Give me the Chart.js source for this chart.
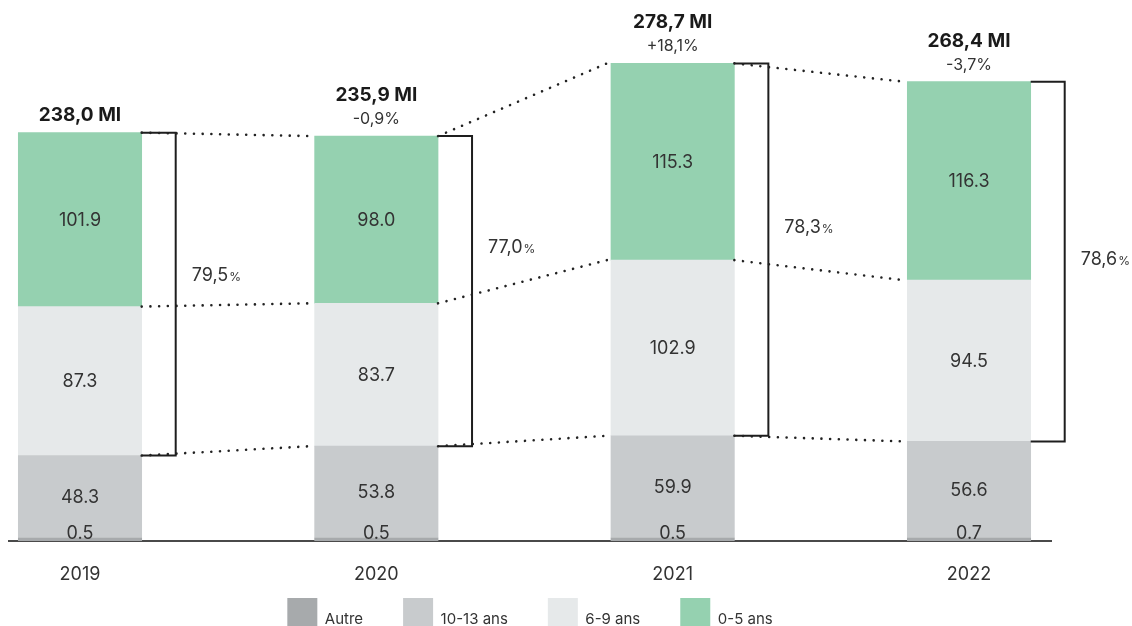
<!DOCTYPE html>
<html><head><meta charset="utf-8">
<script src="https://cdn.jsdelivr.net/npm/chart.js@4"></script>
<style>html,body{margin:0;padding:0;overflow:hidden;background:#fff}#wrap{width:1132px;height:650px;position:relative}</style>
</head><body><div id="wrap"><canvas id="c"></canvas></div>
<script>
const years = ['2019', '2020', '2021', '2022'];
const autre = [0.5, 0.5, 0.5, 0.7];
const ans10_13 = [48.3, 53.8, 59.9, 56.6];
const ans6_9 = [87.3, 83.7, 102.9, 94.5];
const ans0_5 = [101.9, 98.0, 115.3, 116.3];
const totals = [238.0, 235.9, 278.7, 268.4];
const changes = [null, -0.9, 18.1, -3.7];
const shares = [79.5, 77.0, 78.3, 78.6];
const seriesNames = ['Autre', '10-13 ans', '6-9 ans', '0-5 ans'];
const seriesColors = ['#a7aaac', '#c8cbcd', '#e6e9ea', '#95d1b0'];

const FONT = 'Inter, "Liberation Sans", Arial, sans-serif';
const fmtComma = v => v.toFixed(1).replace('.', ',');

const annotPlugin = {
  id: 'annot',
  afterDatasetsDraw(chart, args, opts) {
    const ctx = chart.ctx;
    const metas = [0, 1, 2, 3].map(d => chart.getDatasetMeta(d));
    const series = [autre, ans10_13, ans6_9, ans0_5];
    ctx.save();
    ctx.fillStyle = '#333';
    ctx.textAlign = 'center';
    ctx.font = '18px ' + FONT;
    years.forEach((y, i) => {
      for (let d = 0; d < 4; d++) {
        const el = metas[d].data[i];
        const txt = series[d][i].toFixed(1);
        if (d === 0) {
          ctx.textBaseline = 'alphabetic';
          ctx.fillText(txt, el.x, el.base - 2);
        } else {
          ctx.textBaseline = 'middle';
          ctx.fillText(txt, el.x, (el.y + el.base) / 2 + 1);
        }
      }
    });
    years.forEach((y, i) => {
      const top = metas[3].data[i];
      ctx.textAlign = 'center';
      ctx.textBaseline = 'alphabetic';
      ctx.font = 'bold 19px ' + FONT;
      ctx.fillStyle = '#1a1a1a';
      if (changes[i] === null) {
        ctx.fillText(fmtComma(totals[i]) + ' MI', top.x, top.y - 12);
      } else {
        ctx.fillText(fmtComma(totals[i]) + ' MI', top.x, top.y - 35);
        ctx.font = '16px ' + FONT;
        ctx.fillStyle = '#333';
        ctx.fillText((changes[i] > 0 ? '+' : '') + fmtComma(changes[i]) + '%', top.x, top.y - 12);
      }
    });
    years.forEach((y, i) => {
      const top = metas[3].data[i];
      const bot = metas[1].data[i];
      const x0 = top.x + top.width / 2;
      const x1 = x0 + opts.bracketGap;
      ctx.strokeStyle = '#1e1e1e';
      ctx.lineWidth = 2;
      ctx.setLineDash([]);
      ctx.beginPath();
      ctx.moveTo(x0, top.y);
      ctx.lineTo(x1, top.y);
      ctx.lineTo(x1, bot.y);
      ctx.lineTo(x0, bot.y);
      ctx.stroke();
      const ly = (top.y + bot.y) / 2 + opts.shareOffsets[i];
      ctx.textAlign = 'left';
      ctx.textBaseline = 'alphabetic';
      ctx.fillStyle = '#333';
      ctx.font = '18px ' + FONT;
      const main = fmtComma(shares[i]);
      ctx.fillText(main, x1 + 16, ly);
      const w = ctx.measureText(main).width;
      ctx.font = '12px ' + FONT;
      ctx.fillText('%', x1 + 16 + w + 1, ly);
    });
    ctx.strokeStyle = '#222';
    ctx.lineWidth = 2.6;
    ctx.lineCap = 'round';
    ctx.setLineDash([0.01, 8.7]);
    for (let i = 0; i < years.length - 1; i++) {
      for (const d of [1, 2, 3]) {
        const a = metas[d].data[i];
        const b = metas[d].data[i + 1];
        ctx.beginPath();
        ctx.moveTo(a.x + a.width / 2, a.y);
        ctx.lineTo(b.x - b.width / 2 - 4, b.y);
        ctx.stroke();
      }
    }
    ctx.restore();
  }
};

const series = [autre, ans10_13, ans6_9, ans0_5];
const datasets = series.map((arr, d) => ({
  label: seriesNames[d],
  data: arr.map((v, i) => ({ x: i, y: v })),
  backgroundColor: seriesColors[d],
  borderWidth: 0,
  barThickness: 123.4,
  minBarLength: d === 0 ? 3 : 0
}));

new Chart(document.getElementById('c'), {
  type: 'bar',
  data: { datasets },
  options: {
    responsive: true,
    maintainAspectRatio: false,
    animation: false,
    layout: { padding: { top: 29, left: 9, right: 81, bottom: 0 } },
    scales: {
      x: {
        type: 'linear',
        stacked: true,
        offset: false,
        min: -0.2396,
        max: 3.2767,
        grid: { display: false, drawTicks: false, offset: false },
        border: { color: '#4a4a4a', width: 2 },
        ticks: {
          padding: 23,
          color: '#333',
          font: { family: FONT, size: 18 },
          callback: v => years[v]
        },
        afterBuildTicks: s => { s.ticks = years.map((_, i) => ({ value: i })); },
        afterFit: s => { s.height = 45; }
      },
      y: { stacked: true, min: 0, max: 300, display: false }
    },
    plugins: {
      legend: {
        position: 'bottom',
        title: { display: true, text: '', font: { size: 1, lineHeight: 1 }, padding: { top: -29, bottom: 0 } },
        labels: {
          boxWidth: 30,
          boxHeight: 42,
          padding: 40,
          color: '#333',
          font: { family: FONT, size: 15 }
        }
      },
      tooltip: { enabled: false },
      annot: { bracketGap: 34, shareOffsets: [-13.5, -38, -16.5, 3.5] }
    }
  },
  plugins: [annotPlugin]
});
</script>
</body></html>
